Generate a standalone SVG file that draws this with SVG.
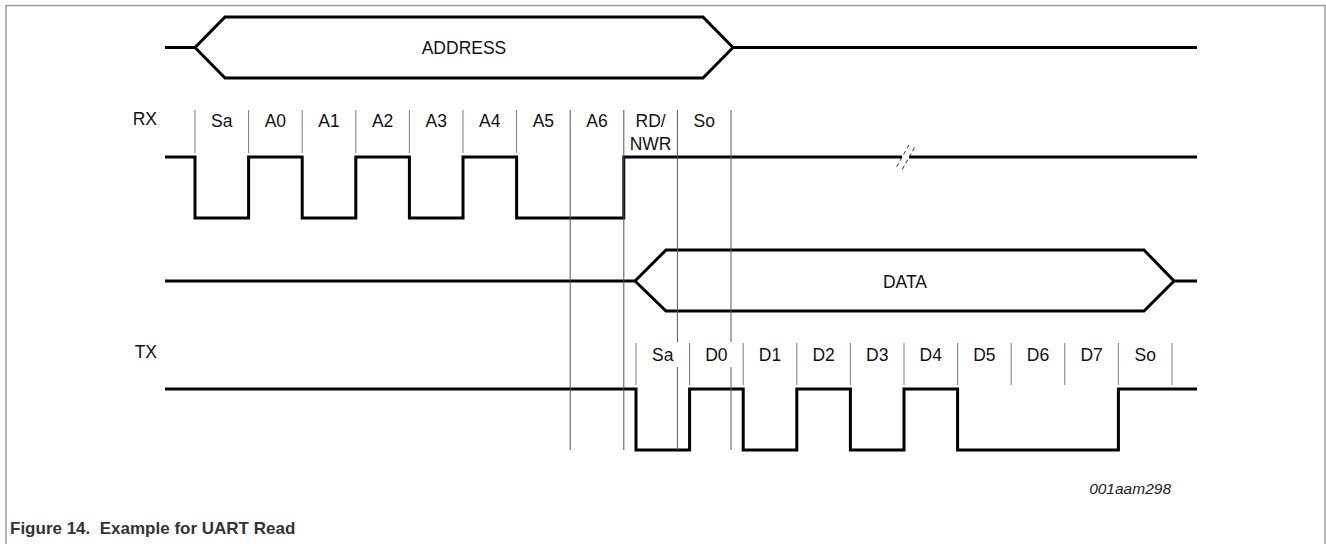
<svg xmlns="http://www.w3.org/2000/svg" width="1326" height="544" viewBox="0 0 1326 544">
  <style>
    .frame { fill: none; stroke: #9a9a9a; stroke-width: 1.5; }
    .sig { fill: none; stroke: #000; stroke-width: 3; stroke-linejoin: miter; stroke-linecap: butt; }
    .tick { fill: none; stroke: #7a7a7a; stroke-width: 1; }
    .guide { fill: none; stroke: #555; stroke-width: 1; }
    .brk { fill: none; stroke: #333; stroke-width: 1; stroke-dasharray: 4 3; }
    .lbl { font-family: "Liberation Sans", Arial, sans-serif; font-size: 17.5px; fill: #111; text-anchor: middle; }
    .name { font-family: "Liberation Sans", Arial, sans-serif; font-size: 17.5px; fill: #111; text-anchor: end; }
    .id { font-family: "Liberation Sans", Arial, sans-serif; font-size: 15.5px; font-style: italic; fill: #222; text-anchor: end; }
    .cap { font-family: "Liberation Sans", Arial, sans-serif; font-size: 17px; font-weight: bold; fill: #333; white-space: pre; }
  </style>
  <rect width="1326" height="544" fill="#fff"/>
  <path class="frame" d="M6,544 V5.5 H1325 V544"/>

  <g id="address">
    <path class="sig" d="M165,47.5 H195 L225,17 H703 L733,47.5 L703,78 H225 L195,47.5 M733,47.5 H1197"/>
    <text class="lbl" x="464" y="54">ADDRESS</text>
  </g>

  <g id="rx">
    <text class="name" x="157" y="125">RX</text>
    <g class="tick">
      <line x1="195" y1="110" x2="195" y2="153"/>
      <line x1="248.6" y1="110" x2="248.6" y2="153"/>
      <line x1="302.2" y1="110" x2="302.2" y2="153"/>
      <line x1="355.8" y1="110" x2="355.8" y2="153"/>
      <line x1="409.4" y1="110" x2="409.4" y2="153"/>
      <line x1="463" y1="110" x2="463" y2="153"/>
      <line x1="516.6" y1="110" x2="516.6" y2="153"/>
    </g>
    <text class="lbl" x="221.8" y="127">Sa</text>
    <text class="lbl" x="275.4" y="127">A0</text>
    <text class="lbl" x="329" y="127">A1</text>
    <text class="lbl" x="382.6" y="127">A2</text>
    <text class="lbl" x="436.2" y="127">A3</text>
    <text class="lbl" x="489.8" y="127">A4</text>
    <text class="lbl" x="543.4" y="127">A5</text>
    <text class="lbl" x="597" y="127">A6</text>
    <text class="lbl" x="650.6" y="127">RD/</text>
    <text class="lbl" x="650.6" y="150">NWR</text>
    <text class="lbl" x="704.2" y="127">So</text>
    <path class="sig" d="M165,157 H195 V218 H248.6 V157 H302.2 V218 H355.8 V157 H409.4 V218 H463 V157 H516.6 V218 H623.8 V157 H902"/>
    <path class="sig" d="M909,157 H1197"/>
    <line class="brk" x1="896.7" y1="166.7" x2="909" y2="145"/>
    <line class="brk" x1="902.3" y1="169.3" x2="915" y2="146.7"/>
  </g>

  <g id="data">
    <path class="sig" d="M165,281 H635 L666,250 H1144 L1174,281 L1144,311 H666 L635,281 M1174,281 H1197"/>
    <text class="lbl" x="905" y="287.5">DATA</text>
  </g>

  <g id="tx">
    <text class="name" x="157" y="358">TX</text>
    <g class="tick">
      <line x1="636" y1="343" x2="636" y2="385"/>
      <line x1="689.6" y1="343" x2="689.6" y2="385"/>
      <line x1="743.2" y1="343" x2="743.2" y2="385"/>
      <line x1="796.8" y1="343" x2="796.8" y2="385"/>
      <line x1="850.4" y1="343" x2="850.4" y2="385"/>
      <line x1="904" y1="343" x2="904" y2="385"/>
      <line x1="957.6" y1="343" x2="957.6" y2="385"/>
      <line x1="1011.2" y1="343" x2="1011.2" y2="385"/>
      <line x1="1064.8" y1="343" x2="1064.8" y2="385"/>
      <line x1="1118.4" y1="343" x2="1118.4" y2="385"/>
      <line x1="1172" y1="343" x2="1172" y2="385"/>
    </g>
    <text class="lbl" x="662.8" y="361">Sa</text>
    <text class="lbl" x="716.4" y="361">D0</text>
    <text class="lbl" x="770" y="361">D1</text>
    <text class="lbl" x="823.6" y="361">D2</text>
    <text class="lbl" x="877.2" y="361">D3</text>
    <text class="lbl" x="930.8" y="361">D4</text>
    <text class="lbl" x="984.4" y="361">D5</text>
    <text class="lbl" x="1038" y="361">D6</text>
    <text class="lbl" x="1091.6" y="361">D7</text>
    <text class="lbl" x="1145.2" y="361">So</text>
    <path class="sig" d="M165,389 H636 V450 H689.6 V389 H743.2 V450 H796.8 V389 H850.4 V450 H904 V389 H957.6 V450 H1118.4 V389 H1197"/>
  </g>

  <g id="connectors">
    <line class="guide" x1="570.2" y1="110" x2="570.2" y2="450"/>
    <line class="guide" x1="623.8" y1="110" x2="623.8" y2="450"/>
    <line class="guide" x1="677.4" y1="110" x2="677.4" y2="342"/>
    <line class="guide" x1="677.4" y1="367" x2="677.4" y2="450"/>
    <line class="guide" x1="731" y1="110" x2="731" y2="342"/>
    <line class="guide" x1="731" y1="367" x2="731" y2="450"/>
  </g>

  <text class="id" x="1171" y="494">001aam298</text>
  <text class="cap" x="10" y="534" xml:space="preserve">Figure 14.  Example for UART Read</text>
</svg>
